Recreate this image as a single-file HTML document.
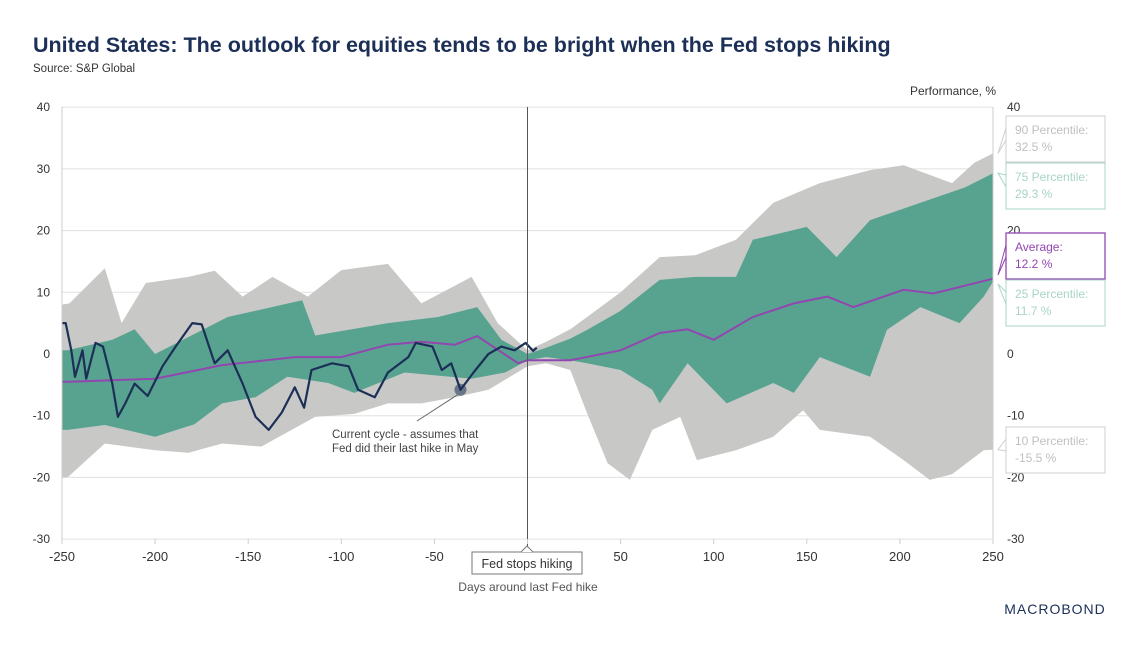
<!DOCTYPE html>
<html><head><meta charset="utf-8"><style>
body{margin:0;background:#fff;font-family:"Liberation Sans",sans-serif;}
svg text{font-family:"Liberation Sans",sans-serif;}
</style></head><body>
<svg id="c" width="1138" height="651" viewBox="0 0 1138 651">
<text x="33" y="52" font-size="21.5" font-weight="bold" fill="#1b2f57">United States: The outlook for equities tends to be bright when the Fed stops hiking</text>
<text x="33" y="72" font-size="11.5" fill="#333">Source: S&amp;P Global</text>
<text x="996" y="95" font-size="12" fill="#333" text-anchor="end">Performance, %</text>
<g id="grid"></g><g id="bands"></g><g id="lines"></g><g id="axes"></g><g id="labels"></g>
<text x="528" y="591" font-size="12" fill="#555" text-anchor="middle">Days around last Fed hike</text>
<text x="1055" y="614" font-size="14" fill="#1b2f57" text-anchor="middle" letter-spacing="1">MACROBOND</text>
</svg>
<script>
const p90Days=[-250,-246,-227,-218,-205,-182,-168,-153,-137,-118,-100,-75,-57,-30,-16,0,10,23,32,50,71,90,112,132,157,184,202,228,240,250];
const p90Vals=[8,8.2,13.9,5,11.5,12.5,13.5,9.3,12.5,9.3,13.6,14.6,8.2,12.5,5,0.6,2,4,6,10,15.7,16,18.5,24.5,27.7,29.8,30.6,27.7,31,32.5];
const p75Days=[-250,-247,-223,-211,-200,-161,-121,-114,-75,-48,-27,-14,0,10,23,32,50,71,90,112,121,150,166,184,211,235,250];
const p75Vals=[0.6,0.6,2.3,4,0,6,8.7,3,5,6,7.6,2.3,0,1,2.5,3.9,7,12,12.5,12.5,18.5,20.6,15.7,21.7,24.5,27,29.3];
const p25Days=[-250,-247,-227,-200,-179,-164,-146,-129,-107,-93,-66,-30,-12,0,10,23,32,50,67,71,86,107,132,143,157,184,193,211,232,245,250];
const p25Vals=[-12.3,-12.3,-11.5,-13.4,-11.4,-8,-7,-3.7,-4.7,-6.3,-3,-4,-3,-1,-0.5,-1,-1.5,-2.6,-5.8,-8,-1.5,-8,-4.7,-6.3,-0.5,-3.7,3.9,7.6,5,9.3,11.7];
const p10Days=[-250,-247,-227,-200,-182,-164,-143,-114,-93,-75,-57,-39,-21,0,10,23,32,43,55,67,82,91,112,132,148,157,184,202,216,228,245,250];
const p10Vals=[-20,-20,-14.5,-15.6,-16,-14.5,-15,-10.2,-9.7,-8,-8,-7,-5.8,-2,-1.5,-2.6,-9.6,-17.7,-20.4,-12.3,-10.2,-17.2,-15.6,-13.4,-9.1,-12.3,-13.4,-17.2,-20.4,-19.5,-15.6,-15.5];
const avgDays=[-250,-246,-200,-164,-125,-100,-75,-57,-39,-27,-5,0,23,50,71,86,100,121,143,161,175,202,218,250];
const avgVals=[-4.5,-4.5,-4,-1.8,-0.5,-0.5,1.5,2,1.5,2.9,-1.5,-1,-1,0.6,3.4,4,2.3,6,8.2,9.3,7.6,10.4,9.8,12.2];
const curDays=[-250,-248,-245,-243,-239,-237,-232,-228,-223,-220,-216,-211,-204,-196,-189,-180,-175,-171,-168,-161,-153,-146,-139,-132,-125,-120,-116,-105,-96,-91,-82,-75,-64,-60,-51,-46,-41,-36,-29,-21,-14,-7,-1,3,5];
const curVals=[5,5,0.6,-3.7,0.6,-4,1.8,1.2,-4.8,-10.2,-8,-4.8,-6.8,-2,1.2,5,4.8,1.2,-1.5,0.6,-4.8,-10.2,-12.3,-9.5,-5.4,-8.7,-2.6,-1.5,-2,-5.8,-7,-3,-0.5,1.8,1.2,-2.6,-1.5,-5.8,-3,0,1.2,0.6,1.8,0.5,1];
const yTicks=[40,30,20,10,0,-10,-20,-30];
const xTicks=[-250,-200,-150,-100,-50,0,50,100,150,200,250];

const X=d=>62+(d+250)*931/500;
const Y=v=>354-v*432/70;
const NS='http://www.w3.org/2000/svg';
function mk(p,t,a){const e=document.createElementNS(NS,t);for(const k in a)e.setAttribute(k,a[k]);document.getElementById(p).appendChild(e);return e;}
const pts=(d,v)=>d.map((x,i)=>X(x).toFixed(1)+','+Y(v[i]).toFixed(1));
function band(dU,vU,dL,vL,fill,name){
 const p=pts(dU,vU).concat(pts(dL,vL).reverse());
 const e=mk('bands','polygon',{points:p.join(' '),fill:fill});
 
 
}
yTicks.forEach(t=>{
 const g=mk('grid','line',{x1:62,x2:993,y1:Y(t),y2:Y(t),stroke:'#e0e0e0','stroke-width':1});
 
 
 const l=mk('axes','text',{x:50,y:Y(t)+4,'font-size':12,fill:'#333','text-anchor':'end'});l.textContent=t;
 
 
 const r=mk('axes','text',{x:1007,y:Y(t)+4,'font-size':12,fill:'#333'});r.textContent=t;
 
 
});
band(p90Days,p90Vals,p10Days,p10Vals,'#c8c9c6','band-10-90');
band(p75Days,p75Vals,p25Days,p25Vals,'#58a390','band-25-75');
const av=mk('lines','polyline',{points:pts(avgDays,avgVals).join(' '),fill:'none',stroke:'#9246b0','stroke-width':2});


const cu=mk('lines','polyline',{points:pts(curDays,curVals).join(' '),fill:'none',stroke:'#1b2f57','stroke-width':2.2,'stroke-linejoin':'round'});


const dot=mk('lines','circle',{cx:X(-36),cy:Y(-5.8),r:6,fill:'#1b2f57','fill-opacity':0.55});


mk('lines','line',{x1:X(-36)-3,y1:Y(-5.8)+5,x2:417,y2:421,stroke:'#666','stroke-width':1});
[['Current cycle - assumes that',438],['Fed did their last hike in May',452]].forEach(a=>{
 const t=mk('lines','text',{x:332,y:a[1],'font-size':11.5,fill:'#444'});t.textContent=a[0];
 
 
});
mk('axes','line',{x1:62,x2:62,y1:107,y2:540,stroke:'#ccc'});
mk('axes','line',{x1:993,x2:993,y1:107,y2:540,stroke:'#ccc'});
const vl=mk('axes','line',{x1:X(0),x2:X(0),y1:107,y2:549,stroke:'#555','stroke-width':1});


xTicks.forEach(t=>{
 mk('axes','line',{x1:X(t),x2:X(t),y1:539,y2:544,stroke:'#ccc'});
 const l=mk('axes','text',{x:X(t),y:561,'font-size':13,fill:'#333','text-anchor':'middle'});l.textContent=t;
 
 
});
const fb=mk('axes','rect',{x:472,y:552,width:110,height:22,fill:'#fff',stroke:'#777'});


mk('axes','polyline',{points:'521,552 527,546 533,552',fill:'#fff',stroke:'#777'});
const ft=mk('axes','text',{x:527,y:568,'font-size':12.5,fill:'#333','text-anchor':'middle'});ft.textContent='Fed stops hiking';


const boxes=[['90 Percentile:','32.5 %',116,'#cfcfcf','#c0c0c0',32.5,'label-90'],['75 Percentile:','29.3 %',163,'#a8d4c8','#a8d4c8',29.3,'label-75'],['Average:','12.2 %',233,'#9246b0','#9246b0',12.2,'label-average'],['25 Percentile:','11.7 %',280,'#a8d4c8','#a8d4c8',11.7,'label-25'],['10 Percentile:','-15.5 %',427,'#cfcfcf','#c0c0c0',-15.5,'label-10']];
boxes.forEach(b=>{
 const r=mk('labels','rect',{x:1006,y:b[2],width:99,height:46,fill:'#fff',stroke:b[3],'stroke-width':b[6]=='label-average'?1.3:1});
 
 
 const ty=Math.max(b[2]+4,Math.min(b[2]+42,Y(b[5])));
 mk('labels','polyline',{points:`1006,${b[2]+12} 998,${ty} 1006,${b[2]+24}`,fill:'none',stroke:b[3]});
 const t1=mk('labels','text',{x:1015,y:b[2]+18,'font-size':12,fill:b[4]});t1.textContent=b[0];
 
 
 const t2=mk('labels','text',{x:1015,y:b[2]+35,'font-size':12,fill:b[4]});t2.textContent=b[1];
 
 
});
</script>
</body></html>
